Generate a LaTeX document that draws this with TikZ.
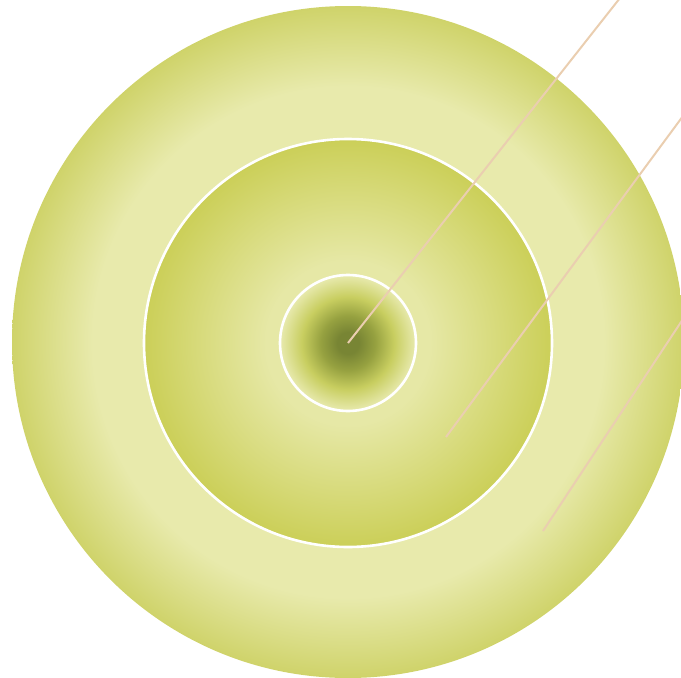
\documentclass[tikz,border=0pt]{standalone}
\usetikzlibrary{shadings}
\definecolor{ringEdge}{RGB}{207,211,106}
\definecolor{ringLight}{RGB}{232,234,172}
\definecolor{midEdge}{RGB}{203,207,88}
\definecolor{midLight}{RGB}{230,232,166}
\definecolor{coreDark}{RGB}{120,133,52}
\definecolor{coreDeep}{RGB}{150,161,64}
\definecolor{coreMid}{RGB}{200,206,96}
\definecolor{coreLight}{RGB}{232,234,175}
\definecolor{leader}{RGB}{234,206,176}
\pgfdeclareradialshading{outerring}{\pgfpoint{0bp}{0bp}}{color(0bp)=(ringLight); color(19bp)=(ringLight); color(25bp)=(ringEdge); color(50bp)=(ringEdge)}
\pgfdeclareradialshading{midring}{\pgfpoint{0bp}{0bp}}{color(0bp)=(midLight); color(10bp)=(midLight); color(25bp)=(midEdge); color(50bp)=(midEdge)}
\pgfdeclareradialshading{corering}{\pgfpoint{0bp}{0bp}}{color(0bp)=(coreDark); color(4bp)=(coreDark); color(10bp)=(coreDeep); color(17bp)=(coreMid); color(25bp)=(coreLight); color(50bp)=(coreLight)}
\tikzset{
  disc/.style={circle, inner sep=0pt, outer sep=0pt},
  rim/.style={draw=white, line width=2.6pt},
  leaderline/.style={draw=leader, line width=2pt}
}
\begin{document}
\begin{tikzpicture}[x=1pt,y=-1pt]
\useasboundingbox (0,0) rectangle (681,678);
\begin{scope}
\clip (0,0) rectangle (681,678);
\node[disc, minimum size=672pt, shading=outerring] (outer) at (348,342) {};
\node[disc, minimum size=408pt, shading=midring, rim] (mid) at (348,343) {};
\node[disc, minimum size=136pt, shading=corering, rim] (core) at (348,343) {};
\coordinate (s2) at (446,437);
\coordinate (s3) at (543,531);
\coordinate (e1) at (620,-2);
\coordinate (e2) at (683,116);
\coordinate (e3) at (683,319);
\draw[leaderline] (core.center) -- (e1);
\draw[leaderline] (s2) -- (e2);
\draw[leaderline] (s3) -- (e3);
\end{scope}
\end{tikzpicture}
\end{document}
